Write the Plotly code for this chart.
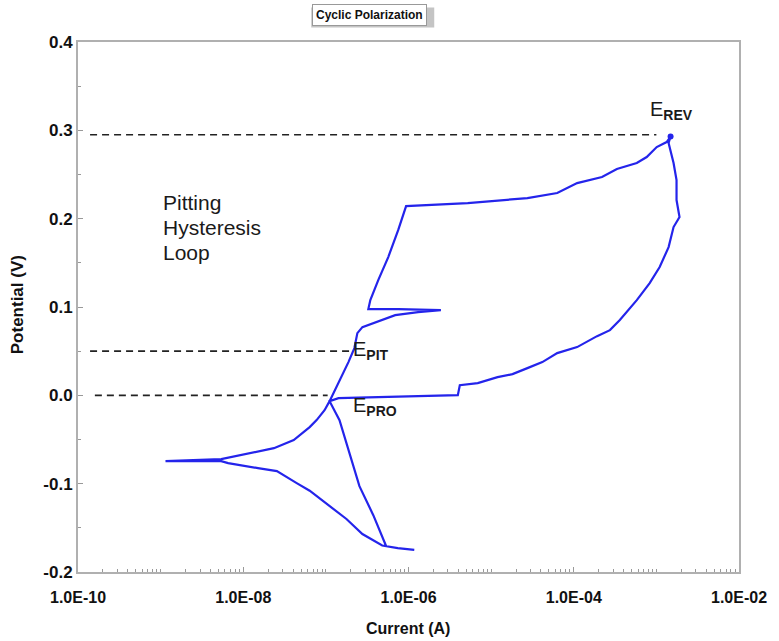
import plotly.graph_objects as go

# Scan trace: current (A, as log10) and potential (V)
log_current = [
    -5.93, -6.13, -6.318, -6.558, -6.751, -6.955, -7.196, -7.353, -7.593, -7.822, -8.183, -8.267, -8.941,
    -8.267, -7.906, -7.629, -7.389, -7.196, -7.112, -7.016, -6.955,
    -6.931, -6.811, -6.727, -6.655, -6.619, -6.558, -6.390, -6.161, -5.884, -5.608, -6.125, -6.486,
    -6.462, -6.366, -6.245, -6.125, -6.029,
    -5.283, -4.561, -4.200, -3.959, -3.658, -3.478, -3.237, -3.117, -2.996, -2.876, -2.828,
    -2.852, -2.792, -2.756, -2.756, -2.720, -2.792, -2.852, -2.960, -3.081, -3.237, -3.442, -3.562,
    -3.718, -3.959, -4.200, -4.380, -4.561, -4.741, -4.922, -5.162, -5.379, -5.403, -5.884, -6.366,
    -6.847, -6.955, -6.835, -6.594, -6.426, -6.270,
]
potential = [
    -0.175, -0.173, -0.170, -0.157, -0.140, -0.125, -0.108, -0.0994, -0.0858, -0.0824, -0.0768, -0.0745, -0.0745,
    -0.0723, -0.0655, -0.0598, -0.0507, -0.036, -0.028, -0.0168, -0.0066,
    -0.002, 0.0206, 0.0376, 0.0535, 0.0704, 0.0772, 0.0829, 0.0908, 0.0942, 0.0965, 0.0976, 0.0976,
    0.1078, 0.1305, 0.1565, 0.187, 0.2143,
    0.2177, 0.2233, 0.2290, 0.2403, 0.2471, 0.2562, 0.2630, 0.2698, 0.2811, 0.2867, 0.293,
    0.2856, 0.2630, 0.2437, 0.2211, 0.2018, 0.1905, 0.1678, 0.1452, 0.1271, 0.1078, 0.0852, 0.0738,
    0.0670, 0.0546, 0.0478, 0.0376, 0.0308, 0.0240, 0.0206, 0.0138, 0.0115, 0.0002, -0.0009, -0.0020,
    -0.0032, -0.0066, -0.0281, -0.1028, -0.1357, -0.1708,
]
current = [10 ** v for v in log_current]

# Reference potentials (dashed lines): name, E, x-start, x-end
ref_names = ["REV", "PIT", "PRO"]
ref_E = [0.295, 0.05, 0.0]
ref_x0 = [1.4e-10, 1.4e-10, 1.6e-10]
ref_x1 = [1.0e-3, 2.0e-7, 1.05e-7]

x_tickvals = [1e-10, 1e-8, 1e-6, 1e-4, 1e-2]
x_ticktext = ["1.0E-10", "1.0E-08", "1.0E-06", "1.0E-04", "1.0E-02"]
y_tickvals = [-0.2, -0.1, 0.0, 0.1, 0.2, 0.3, 0.4]
y_ticktext = ["-0.2", "-0.1", "0.0", "0.1", "0.2", "0.3", "0.4"]

minor_x = [m * 10 ** d for d in range(-10, -2) for m in range(1, 10)
           if not (m == 1 and d % 2 == 0)]

loop_lines = ["Pitting", "Hysteresis", "Loop"]

FONT = "Liberation Sans, Arial, sans-serif"
BLUE = "rgb(36,36,235)"
TXT = "#1a1a1a"

fig = go.Figure()

for name, e, x0, x1 in zip(ref_names, ref_E, ref_x0, ref_x1):
    fig.add_trace(go.Scatter(x=[x0, x1], y=[e, e], mode="lines",
                             line=dict(color="#222", width=1.6, dash="7px,5px"),
                             showlegend=False, hoverinfo="skip"))

fig.add_trace(go.Scatter(x=current, y=potential, mode="lines",
                         line=dict(color=BLUE, width=2.2), showlegend=False))

ipk = potential.index(max(potential))
fig.add_trace(go.Scatter(x=[current[ipk]], y=[potential[ipk]], mode="markers",
                         marker=dict(color=BLUE, size=6), showlegend=False))

fig.update_xaxes(type="log", range=[-10, -2], tickvals=x_tickvals, ticktext=x_ticktext,
                 ticks="inside", ticklen=5, tickcolor="#999", tickwidth=1,
                 minor=dict(tickvals=minor_x, ticks="inside", ticklen=3, tickcolor="#999"),
                 showline=True, linecolor="#b0b0b0", linewidth=2, mirror=True,
                 showgrid=False, zeroline=False, ticklabelstandoff=10,
                 tickfont=dict(family=FONT, size=16, color="#111", weight="bold"))
fig.update_yaxes(range=[-0.2, 0.4], tickvals=y_tickvals, ticktext=y_ticktext,
                 ticks="inside", ticklen=5, tickcolor="#999", tickwidth=1,
                 minor=dict(dtick=0.05, ticks="inside", ticklen=3, tickcolor="#999"),
                 showline=True, linecolor="#b0b0b0", linewidth=2, mirror=True,
                 showgrid=False, zeroline=False, ticklabelstandoff=0,
                 tickfont=dict(family=FONT, size=17, color="#111", weight="bold"))

ann = []
# Title box
ann.append(dict(xref="paper", yref="paper", x=0.4406, y=1.0500, xanchor="center", yanchor="middle",
                text="Cyclic Polarization", showarrow=False, bgcolor="white",
                bordercolor="#999", borderwidth=1, borderpad=3,
                font=dict(family=FONT, size=12, color="#111", weight="bold")))
# Axis titles
ann.append(dict(xref="paper", yref="paper", x=-0.0902, y=0.504, xanchor="center", yanchor="middle",
                text="Potential (V)", textangle=-90, showarrow=False,
                font=dict(family=FONT, size=17, color="#111", weight="bold")))
ann.append(dict(xref="paper", yref="paper", x=0.499, y=-0.1057, xanchor="center", yanchor="middle",
                text="Current (A)", showarrow=False,
                font=dict(family=FONT, size=16, color="#111", weight="bold")))
# Loop label, one annotation per line
for i, line in enumerate(loop_lines):
    ann.append(dict(x=-8.99, y=0.2185 - 0.0282 * i, xanchor="left", yanchor="middle",
                    text=line, showarrow=False,
                    font=dict(family=FONT, size=21, color=TXT)))
# E labels
ann.append(dict(x=-3.10, y=0.323, xanchor="left", yanchor="middle",
                text="E<sub><b>REV</b></sub>", showarrow=False,
                font=dict(family=FONT, size=20, color=TXT)))
ann.append(dict(x=-6.69, y=0.051, xanchor="left", yanchor="middle",
                text="E<sub><b>PIT</b></sub>", showarrow=False,
                font=dict(family=FONT, size=20, color=TXT)))
ann.append(dict(x=-6.69, y=-0.013, xanchor="left", yanchor="middle",
                text="E<sub><b>PRO</b></sub>", showarrow=False,
                font=dict(family=FONT, size=20, color=TXT)))

# Shadow behind title box
shapes = [dict(type="rect", xref="paper", yref="paper", xsizemode="pixel", ysizemode="pixel",
               xanchor=0.4406, yanchor=1.05, x0=-58, x1=65, y0=-12, y1=8,
               fillcolor="#c4c4c4", line=dict(width=0), layer="below")]

fig.update_layout(width=779, height=641, margin=dict(l=78, r=36, t=42, b=69),
                  plot_bgcolor="white", paper_bgcolor="white", annotations=ann, shapes=shapes)

fig.write_html("out.html", config={"displayModeBar": False},
               post_script="document.body.style.margin='0';")
